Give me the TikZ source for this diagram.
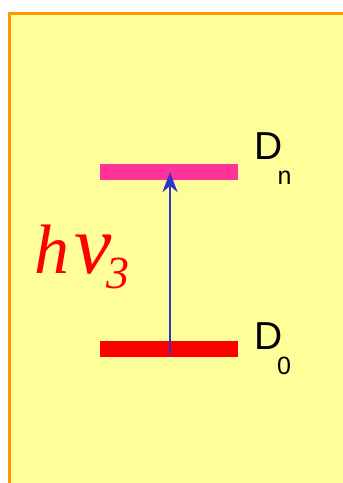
\documentclass[tikz,border=0pt]{standalone}
\usepackage{fontspec}
\setmainfont{Liberation Sans}
\newfontfamily\serifit{Liberation Serif}
\usetikzlibrary{arrows.meta}
\definecolor{bgyellow}{RGB}{255,255,153}
\definecolor{frameorange}{RGB}{255,153,0}
\definecolor{levelpink}{RGB}{255,51,153}
\definecolor{levelred}{RGB}{255,0,0}
\definecolor{arrowblue}{RGB}{51,51,204}
\begin{document}
\begin{tikzpicture}[x=1pt,y=-1pt,
  level/.style={inner sep=0pt,minimum width=138pt,minimum height=16pt},
  lbl/.style={inner sep=0pt,anchor=base west,font=\fontsize{39}{39}\selectfont},
  sub/.style={inner sep=0pt,anchor=base west,font=\fontsize{25}{25}\selectfont},
  red/.style={inner sep=0pt,anchor=base west,text=levelred}]
\useasboundingbox (0,0) rectangle (343,483);
\fill[white] (0,0) rectangle (343,483);
\fill[bgyellow] (8,12) rectangle (345,485);
\draw[frameorange,line width=3pt] (9.5,485) -- (9.5,13.5) -- (345,13.5);
\node[level,fill=levelpink] (dn) at (169,172) {};
\node[level,fill=levelred] (d0) at (169,349) {};
\coordinate (a0) at (170,355);
\coordinate (a1) at (170,172);
\draw[arrowblue,line width=2.8pt,-{Stealth[length=20pt,width=15pt,inset=6pt]}] (a0) -- (a1);
\node[lbl] (dnl) at (254,159) {D};
\node[sub] (dnn) at (277.5,184) {n};
\node[lbl] (d0l) at (254,349) {D};
\node[sub] (d00) at (277,374) {0};
\node[red,font=\fontsize{70}{70}\selectfont\serifit\itshape] (h) at (34,273) {h};
\node[red,font=\fontsize{84}{84}\selectfont\serifit\itshape] (nu) at (74,273) {ν};
\node[red,font=\fontsize{46}{46}\selectfont\serifit\itshape] (three) at (106,288) {3};
\end{tikzpicture}
\end{document}
